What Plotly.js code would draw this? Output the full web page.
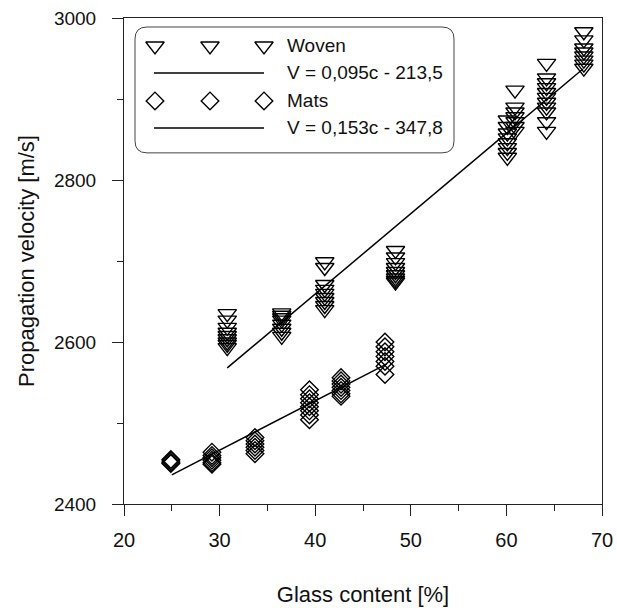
<!DOCTYPE html>
<html>
<head>
<meta charset="utf-8">
<script src="https://cdn.plot.ly/plotly-3.0.1.min.js"></script>
<style>html,body{margin:0;padding:0;background:#fff;}#chart{width:617px;height:608px;}</style>
</head>
<body>
<div id="chart"></div>
<script>
// ---- Data ----
const wovenGlass = [
  30.8,30.8,30.8,30.8,30.8,30.8,30.8,30.8,30.8,
  36.5,36.5,36.5,36.5,36.5,36.5,36.5,36.5,
  41.0,41.0,41.0,41.0,41.0,41.0,41.0,41.0,41.0,
  48.4,48.4,48.4,48.4,48.4,48.4,48.4,48.4,48.4,
  60.1,60.1,60.1,60.1,60.1,60.1,60.1,60.1,
  60.9,60.9,60.9,60.9,60.9,60.9,60.9,
  64.2,64.2,64.2,64.2,64.2,64.2,64.2,64.2,64.2,64.2,64.2,
  68.1,68.1,68.1,68.1,68.1,68.1,68.1,68.1
];
const wovenVelocity = [
  2635,2627,2618,2612,2608,2604,2600,2597,2593,
  2636,2633,2630,2627,2622,2617,2612,2607,
  2699,2692,2671,2665,2660,2655,2650,2645,2640,
  2713,2705,2698,2692,2687,2683,2679,2676,2674,
  2874,2866,2858,2852,2846,2840,2834,2828,
  2911,2890,2884,2878,2872,2866,2860,
  2944,2926,2920,2914,2908,2902,2896,2890,2884,2872,2860,
  2983,2973,2963,2958,2953,2948,2943,2938
];
const matsGlass = [
  24.9,24.9,24.9,24.9,
  29.2,29.2,29.2,29.2,29.2,29.2,
  33.7,33.7,33.7,33.7,33.7,33.7,
  39.4,39.4,39.4,39.4,39.4,39.4,39.4,39.4,
  42.7,42.7,42.7,42.7,42.7,42.7,42.7,
  47.3,47.3,47.3,47.3,47.3,47.3,47.3
];
const matsVelocity = [
  2455,2453,2451,2450,
  2464,2460,2457,2454,2451,2449,
  2482,2478,2474,2470,2466,2462,
  2541,2535,2530,2525,2520,2515,2510,2504,
  2556,2552,2548,2544,2540,2536,2533,
  2600,2594,2588,2582,2576,2570,2560
];
const wovenFitGlass = [30.8, 68.0];
const wovenFitVelocity = [2568, 2937];
const matsFitGlass = [25.0, 47.5];
const matsFitVelocity = [2436, 2573];

const xTickVals = [20, 30, 40, 50, 60, 70];
const yTickVals = [2400, 2600, 2800, 3000];
const legendLabels = ['Woven', 'V = 0,095c - 213,5', 'Mats', 'V = 0,153c - 347,8'];
const xTitle = 'Glass content [%]';
const yTitle = 'Propagation velocity [m/s]';

// ---- Legend layout (pixel positions inside plot area, via overlay axes) ----
const legSampleX = [155, 210, 264];
const legRowY = [46, 73, 101, 128];
const legTextX = 285;
const legLineX = [154, 264];

const markerLine = {color: '#000', width: 1.4};
const triSize = 16, diaSize = 13.5;

const traces = [
  {x: wovenGlass, y: wovenVelocity, type: 'scatter', mode: 'markers', name: 'Woven',
   marker: {symbol: 'triangle-down-open', size: triSize, color: '#000', line: markerLine}},
  {x: wovenFitGlass, y: wovenFitVelocity, type: 'scatter', mode: 'lines', name: legendLabels[1],
   line: {color: '#000', width: 1.5}},
  {x: matsGlass, y: matsVelocity, type: 'scatter', mode: 'markers', name: 'Mats',
   marker: {symbol: 'diamond-open', size: diaSize, color: '#000', line: markerLine}},
  {x: matsFitGlass, y: matsFitVelocity, type: 'scatter', mode: 'lines', name: legendLabels[3],
   line: {color: '#000', width: 1.5}},
  // legend samples
  {x: legSampleX, y: legSampleX.map(() => legRowY[0]), xaxis: 'x2', yaxis: 'y2', type: 'scatter', mode: 'markers',
   marker: {symbol: 'triangle-down-open', size: triSize, color: '#000', line: markerLine}, hoverinfo: 'skip'},
  {x: legSampleX, y: legSampleX.map(() => legRowY[2]), xaxis: 'x2', yaxis: 'y2', type: 'scatter', mode: 'markers',
   marker: {symbol: 'diamond-open', size: diaSize, color: '#000', line: markerLine}, hoverinfo: 'skip'}
];

const L = 124, R = 602, T = 18, B = 504.5;
const bx0 = 135, bx1 = 454, by0 = 27, by1 = 153, rr = 12;
const boxPath = `M ${bx0+rr},${by0} L ${bx1-rr},${by0} Q ${bx1},${by0} ${bx1},${by0+rr} L ${bx1},${by1-rr} Q ${bx1},${by1} ${bx1-rr},${by1} L ${bx0+rr},${by1} Q ${bx0},${by1} ${bx0},${by1-rr} L ${bx0},${by0+rr} Q ${bx0},${by0} ${bx0+rr},${by0} Z`;

const font = 'Liberation Sans, Arial, sans-serif';
const layout = {
  width: 617, height: 608,
  margin: {l: L, r: 617 - R, t: T, b: 608 - B, pad: 0},
  paper_bgcolor: '#fff', plot_bgcolor: '#fff',
  showlegend: false,
  font: {family: font, color: '#111', size: 19},
  xaxis: {
    range: [20, 70], tickvals: xTickVals, ticktext: xTickVals.map(String),
    ticks: 'outside', ticklen: 11, tickwidth: 1, tickcolor: '#222',
    minor: {ticks: 'outside', ticklen: 6, dtick: 5, tickcolor: '#222', tickwidth: 1},
    showline: true, linecolor: '#222', linewidth: 1, mirror: true,
    showgrid: false, zeroline: false, ticklabelstandoff: 7,
    tickfont: {family: font, size: 20, color: '#111'},
    title: {text: xTitle, font: {family: font, size: 22, color: '#111'}, standoff: 36}
  },
  yaxis: {
    range: [2400, 3000], tickvals: yTickVals, ticktext: yTickVals.map(String),
    ticks: 'outside', ticklen: 11, tickwidth: 1, tickcolor: '#222',
    minor: {ticks: 'outside', ticklen: 6, dtick: 100, tickcolor: '#222', tickwidth: 1},
    showline: true, linecolor: '#222', linewidth: 1, mirror: true,
    showgrid: false, zeroline: false, ticklabelstandoff: 12,
    tickfont: {family: font, size: 19, color: '#111'},
    title: {text: yTitle, font: {family: font, size: 22, color: '#111'}, standoff: 13}
  },
  xaxis2: {overlaying: 'x', range: [L, R], visible: false, fixedrange: true},
  yaxis2: {overlaying: 'y', range: [B, T], visible: false, fixedrange: true},
  shapes: [
    {type: 'path', xref: 'x2', yref: 'y2', path: boxPath, line: {color: '#444', width: 1}, fillcolor: 'rgba(0,0,0,0)', layer: 'below'},
    {type: 'line', xref: 'x2', yref: 'y2', x0: legLineX[0], x1: legLineX[1], y0: legRowY[1], y1: legRowY[1], line: {color: '#000', width: 1.5}},
    {type: 'line', xref: 'x2', yref: 'y2', x0: legLineX[0], x1: legLineX[1], y0: legRowY[3], y1: legRowY[3], line: {color: '#000', width: 1.5}}
  ],
  annotations: legendLabels.map((t, i) => ({
    text: t, xref: 'x2', yref: 'y2', x: legTextX, y: legRowY[i], xanchor: 'left', yanchor: 'middle',
    showarrow: false, font: {family: font, size: 19, color: '#111'}
  }))
};

Plotly.newPlot('chart', traces, layout, {displayModeBar: false, staticPlot: true});
</script>
</body>
</html>
